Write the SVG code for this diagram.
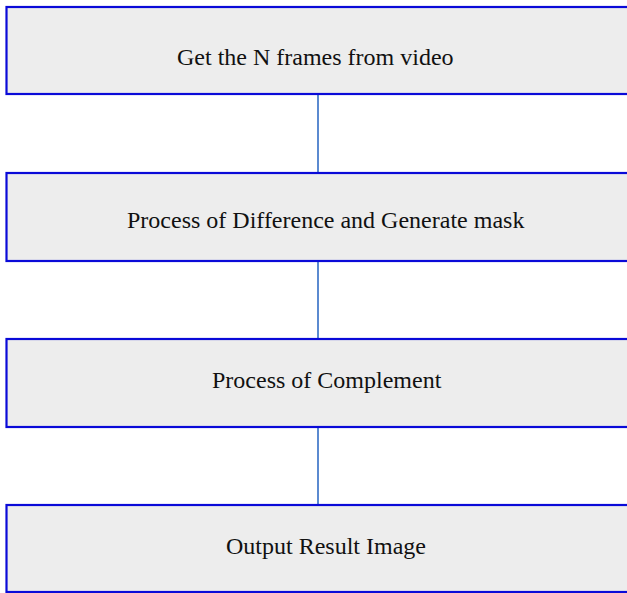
<svg xmlns="http://www.w3.org/2000/svg" width="627" height="593" viewBox="0 0 627 593">
<style>
.box{fill:#ededed;stroke:#0a0ad8;stroke-width:2.2}
.lbl{font-family:"Liberation Serif","Times New Roman",serif;font-size:24px;fill:#111}
.conn{stroke:#5b8ad0;stroke-width:2;fill:none}
</style>
<rect width="627" height="593" fill="#ffffff"/>
<g id="connectors">
<line class="conn" x1="318" y1="94" x2="318" y2="173"/>
<line class="conn" x1="318" y1="261" x2="318" y2="339"/>
<line class="conn" x1="318" y1="427" x2="318" y2="505"/>
</g>
<g id="node1">
<rect class="box" x="6.5" y="7" width="640" height="87"/>
<text class="lbl" x="177" y="65">Get the N frames from video</text>
</g>
<g id="node2">
<rect class="box" x="6.5" y="173" width="640" height="88"/>
<text class="lbl" x="127" y="228">Process of Difference and Generate mask</text>
</g>
<g id="node3">
<rect class="box" x="6.5" y="339" width="640" height="88"/>
<text class="lbl" x="212" y="388">Process of Complement</text>
</g>
<g id="node4">
<rect class="box" x="6.5" y="505" width="640" height="87"/>
<text class="lbl" x="226" y="554">Output Result Image</text>
</g>
</svg>
